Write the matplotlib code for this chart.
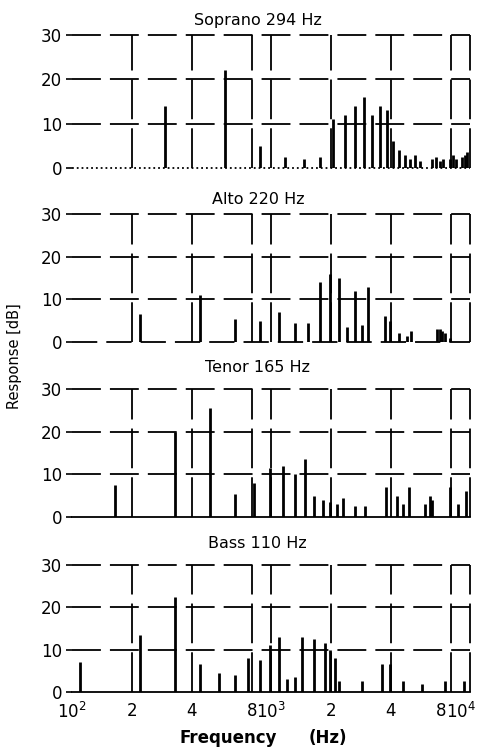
import matplotlib
matplotlib.use("Agg")
import matplotlib.pyplot as plt
from matplotlib.transforms import ScaledTranslation

plt.rcParams['font.family'] = ['DejaVu Sans']

# Harmonic spectra of four sung vowels (frequency in Hz, level in dB)
soprano_title = "Soprano 294 Hz"
soprano_freq = [294, 588, 882, 1176, 1470, 1764, 2058, 2352, 2646, 2940, 3234, 3528,
                3822, 4116, 4410, 4704, 4998, 5292, 5586, 6468, 6762, 7056, 7350,
                7938, 8232, 8526, 9114, 9408, 9702]
soprano_db = [14, 22, 5, 2.5, 2, 2.5, 11, 12, 14, 16, 12, 14,
              13, 6, 4, 3, 2, 3, 1.5, 2, 2.5, 1.5, 2,
              2, 3, 2, 2.5, 3, 3.5]

alto_title = "Alto 220 Hz"
alto_freq = [220, 440, 660, 880, 1100, 1320, 1540, 1760, 1980, 2200, 2420, 2640,
             2860, 3080, 3740, 3960, 4400, 4840, 5060, 6820, 7040, 7260, 7480, 7920]
alto_db = [6.5, 11, 5.5, 5, 7, 4.5, 4.5, 14, 16, 15, 3.5, 12,
           4, 13, 6, 5, 2, 1.5, 2.5, 3, 3, 2.5, 2, 1]

tenor_title = "Tenor 165 Hz"
tenor_freq = [165, 330, 495, 660, 825, 990, 1155, 1320, 1485, 1650, 1815, 1980,
              2145, 2310, 2640, 2970, 3795, 4290, 4620, 4950, 5940, 6270, 6435,
              7920, 8745, 9570]
tenor_db = [7.5, 20, 25.5, 5.5, 8, 11.5, 12, 10, 13.5, 5, 4, 3.5,
            3, 4.5, 2.5, 2.5, 7, 5, 3, 7, 3, 5, 4,
            7, 3, 6]

bass_title = "Bass 110 Hz"
bass_freq = [110, 220, 330, 440, 550, 660, 770, 880, 990, 1100, 1210, 1320, 1430,
             1650, 1870, 1980, 2090, 2200, 2860, 3630, 3960, 4620, 5720, 7480, 9350]
bass_db = [7, 13.5, 22.5, 6.5, 4.5, 4, 8, 7.5, 11, 13, 3, 3.5, 13,
           12.5, 11.5, 10, 8, 2.5, 2.5, 6.5, 6.5, 2.5, 2, 2.5, 2.5]

db_ticks = [0, 10, 20, 30]
grid_freqs = [200, 400, 800, 1000, 2000, 4000, 8000, 10000]
freq_ticks = [100, 200, 400, 800, 1000, 2000, 4000, 8000, 10000]
freq_labels = [r'$10^2$', '2', '4', '8', r'$10^3$', '2', '4', '8', r'$10^4$']

panels = [
    (soprano_title, soprano_freq, soprano_db, ':'),
    (alto_title, alto_freq, alto_db, (0, (14, 5))),
    (tenor_title, tenor_freq, tenor_db, '-'),
    (bass_title, bass_freq, bass_db, '-'),
]

fig = plt.figure(figsize=(4.82, 7.49), dpi=100)

# axes boxes in figure fractions: bottom, height
left, width = 0.1494, 0.8257
boxes = [
    (0.7757, 0.1776),
    (0.5434, 0.1709),
    (0.3097, 0.1709),
    (0.0761, 0.1696),
]
title_y = [0.973, 0.734, 0.510, 0.275]

h_dash = (0, (16, 5))
v_dash = (0, (22, 5))

for i, ((title, freq, db, base_ls), (bottom, height)) in enumerate(zip(panels, boxes)):
    ax = fig.add_axes([left, bottom, width, height])
    ax.set_xscale('log')
    ax.set_xlim(100, 10000)
    ax.set_ylim(0, 30)
    for s in ax.spines.values():
        s.set_visible(False)

    # broken grid lines
    for level in db_ticks[1:]:
        ax.axhline(level, color='black', lw=1.3, ls=h_dash, clip_on=False, zorder=1)
    for f in grid_freqs:
        ax.axvline(f, color='black', lw=1.3, ls=v_dash, clip_on=False, zorder=1)
    ax.axhline(0, color='black', lw=1.3, ls=base_ls, clip_on=False, zorder=1)

    # harmonic levels
    ax.vlines(freq, 0, db, colors='black', lw=2.0, zorder=3)

    ax.set_yticks(db_ticks)
    ax.tick_params(axis='y', direction='out', length=4, width=1.2, pad=3,
                   labelsize=12)
    ax.minorticks_off()
    if i == 3:
        ax.set_xticks(freq_ticks)
        ax.set_xticklabels(freq_labels)
        ax.tick_params(axis='x', length=0, pad=7, labelsize=12)
        # crowd the last two labels leftward so they stay inside the figure
        labels = ax.get_xticklabels()
        for lab, dx in ((labels[-2], -10), (labels[-1], -9)):
            lab.set_transform(lab.get_transform() +
                              ScaledTranslation(dx / 100, 0, fig.dpi_scale_trans))
    else:
        ax.set_xticks([])
    ax.tick_params(axis='x', which='minor', length=0)

    fig.text(0.535, title_y[i], title, ha='center', va='center', fontsize=11.5)

fig.text(0.031, 0.525, "Response [dB]", rotation=90, ha='center', va='center',
         fontsize=10.5)
fig.text(0.473, 0.015, "Frequency", ha='center', va='center', fontsize=12,
         fontweight='bold')
fig.text(0.68, 0.015, "(Hz)", ha='center', va='center', fontsize=12,
         fontweight='bold')

fig.savefig("out.png", dpi=100)
